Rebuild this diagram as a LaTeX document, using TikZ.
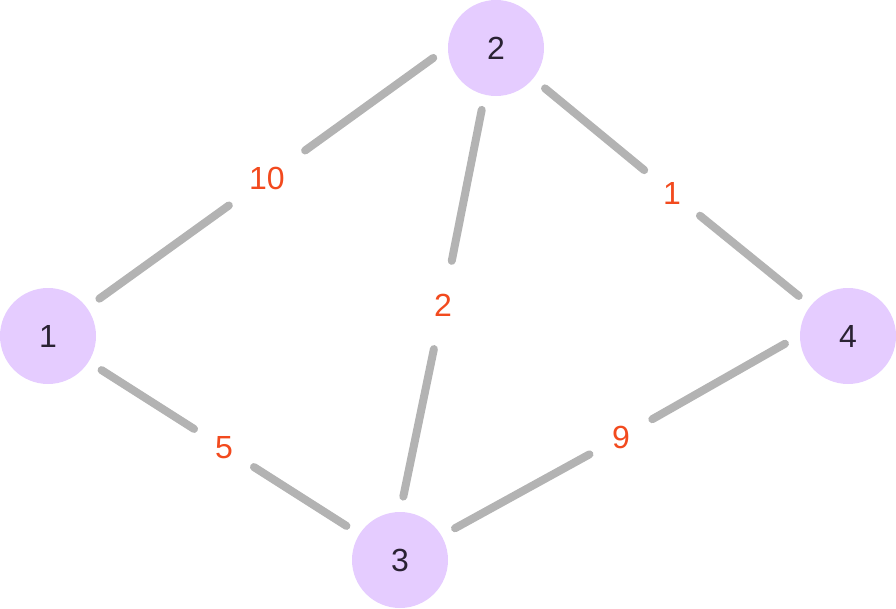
\documentclass[tikz,border=0pt]{standalone}
\usepackage{fontspec}
\setmainfont{Liberation Sans}
\usetikzlibrary{positioning}

\definecolor{vertexfill}{HTML}{E5CCFF}
\definecolor{vertextext}{HTML}{2A2233}
\definecolor{weightred}{HTML}{F24A1E}
\definecolor{linkgray}{HTML}{B3B3B3}

\begin{document}
\begin{tikzpicture}[x=1pt, y=-1pt,
		vertex/.style={circle, fill=vertexfill, text=vertextext, minimum size=96pt, inner sep=0pt, outer sep=15.5pt, font=\fontsize{32}{38}\selectfont},
		weight/.style={circle, text=weightred, inner sep=0pt, outer sep=0pt, font=\fontsize{32}{38}\selectfont},
		link/.style={draw=linkgray, line width=8pt, line cap=round}]
		
		\useasboundingbox (0,0) rectangle (896,608);
		
		\node[vertex] (v1) at (48, 336) {1};
		\node[vertex] (v2) at (496, 48) {2};
		\node[vertex] (v3) at (400, 560) {3};
		\node[vertex] (v4) at (848, 336) {4};
		
		\node[weight, minimum size=94pt] (w12) at (267, 178) {10};
		\node[weight, minimum size=90pt] (w23) at (443, 305) {2};
		\node[weight, minimum size=72pt] (w24) at (672, 193) {1};
		\node[weight, minimum size=71pt] (w13) at (224, 448) {5};
		\node[weight, minimum size=72pt] (w34) at (621, 437) {9};
		
		\draw[link] (v1.36) -- (w12) (w12) -- (v2.189);
		\draw[link] (v2.257) -- (w23) (w23) -- (v3.87);
		\draw[link] (v2) -- (w24) (w24) -- (v4);
		\draw[link] (v1) -- (w13) (w13) -- (v3);
		\draw[link] (v3.30) -- (w34) (w34) -- (v4.187);
		
	\end{tikzpicture}
\end{document}
